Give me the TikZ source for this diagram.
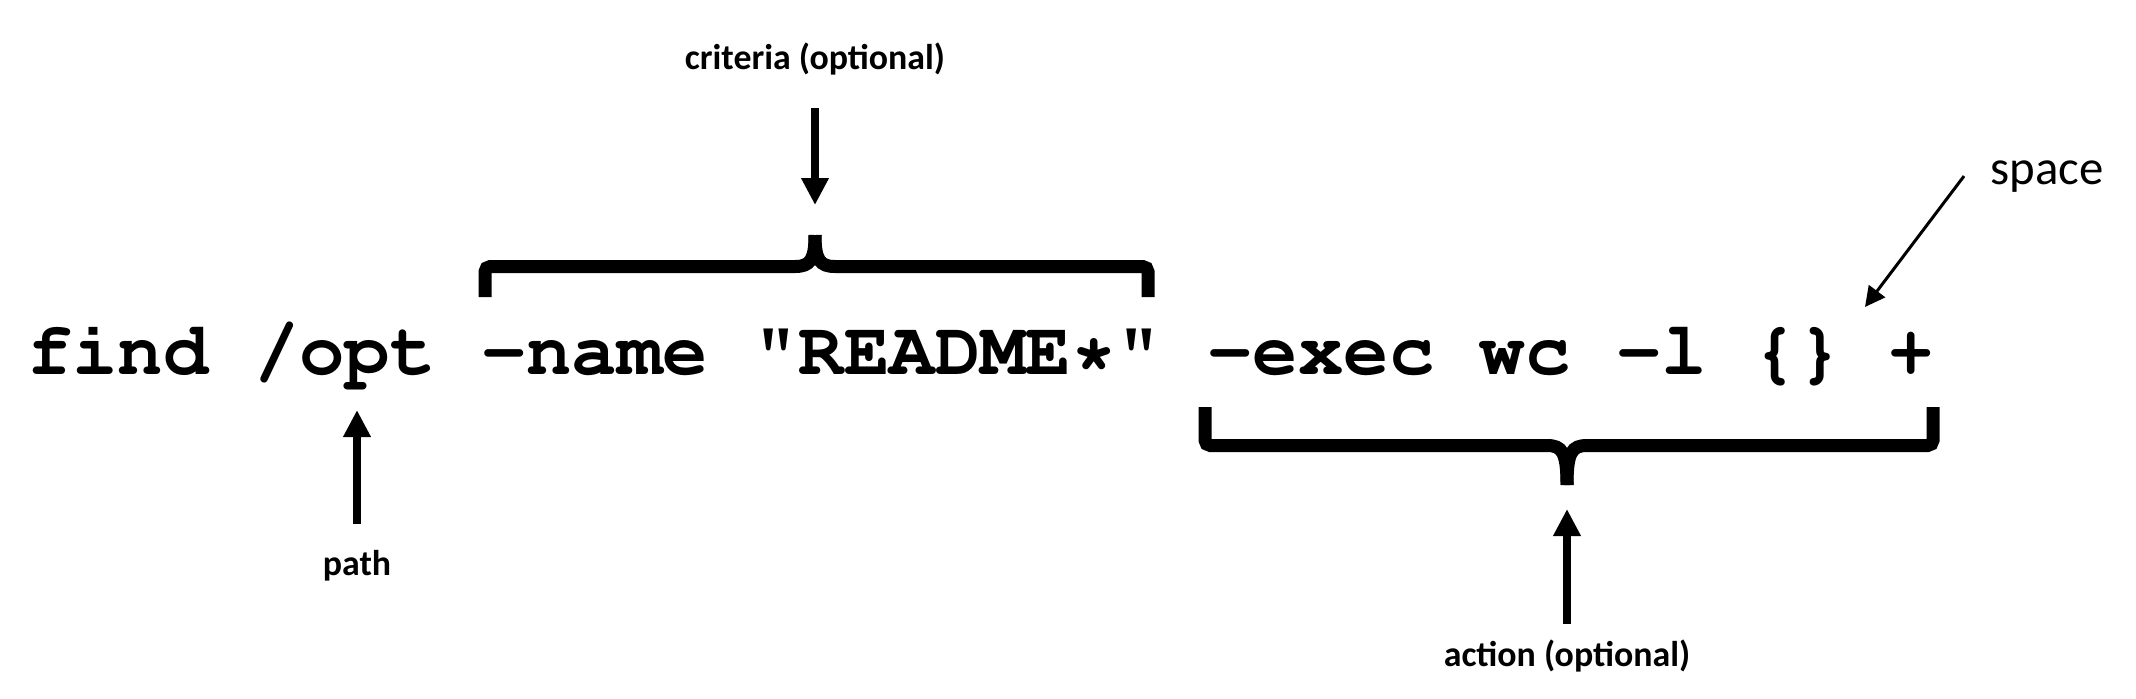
\documentclass[tikz,border=0pt]{standalone}
\usepackage[T1]{fontenc}
\usepackage{fontspec}
\newfontfamily\lblfont{Carlito}
\newcommand{\cmdfont}{\fontencoding{T1}\fontfamily{pcr}\bfseries\fontsize{21.53}{26}\selectfont}
\usetikzlibrary{arrows.meta}

\begin{document}
\begin{tikzpicture}[
        cmd/.style={font=\cmdfont, inner sep=0pt, anchor=base west},
        lbl/.style={font=\lblfont\bfseries\fontsize{10.2}{12}\selectfont, inner sep=0pt, anchor=base},
        brace/.style={line width=0.13cm},
        bigarrow/.style={-{Triangle[width=0.26cm, length=0.27cm]}, line width=0.087cm},
        thinarrow/.style={-{Triangle[width=0.2cm, length=0.2cm]}, line width=0.03cm}]
        \useasboundingbox (0,0) rectangle (21.36,-6.98);
        \node[cmd] (find) at (0.264,-3.74)  {find};
        \node[cmd] (opt)  at (2.534,-3.74)  {/opt};
        \node[cmd] (crit) at (4.804,-3.74)  {-name "README*"};
        \node[cmd] (act)  at (12.068,-3.74) {-exec wc -l \{\}};
        \node[cmd] (plus) at (18.878,-3.74) {+};
        \node[lbl] (critlbl) at (8.15,-0.69)  {criteria (optional)};
        \node[lbl] (pathlbl) at (3.57,-5.75)  {path};
        \node[lbl] (actlbl)  at (15.67,-6.66) {action (optional)};
        \node[lbl, font=\lblfont\fontsize{13.9}{16}\selectfont, anchor=base west] (spacelbl) at (19.90,-1.84) {space};
        \coordinate (critcusp) at (8.15,-2.35);
        \coordinate (actcusp)  at (15.67,-4.85);
        \coordinate (gap)      at (18.65,-3.07);
        \draw[brace] (4.85,-2.97) [rounded corners=1.5pt] -- (4.85,-2.665) [sharp corners] -- (7.95,-2.665) .. controls (8.10,-2.665) and (8.15,-2.60) .. (critcusp);
        \draw[brace] (11.48,-2.97) [rounded corners=1.5pt] -- (11.48,-2.665) [sharp corners] -- (8.35,-2.665) .. controls (8.20,-2.665) and (8.15,-2.60) .. (critcusp);
        \draw[brace] (12.05,-4.07) [rounded corners=1.5pt] -- (12.05,-4.455) [sharp corners] -- (15.47,-4.455) .. controls (15.62,-4.455) and (15.67,-4.52) .. (actcusp);
        \draw[brace] (19.33,-4.07) [rounded corners=1.5pt] -- (19.33,-4.455) [sharp corners] -- (15.87,-4.455) .. controls (15.72,-4.455) and (15.67,-4.52) .. (actcusp);
        \draw[bigarrow, shorten <=0.33cm, shorten >=0.30cm] (critlbl.south) -- (critcusp);
        \draw[bigarrow, shorten <=0.25cm, shorten >=0.36cm] (pathlbl.north) -- (pathlbl.north |- opt.base);
        \draw[bigarrow, shorten <=0.15cm, shorten >=0.24cm] (actlbl.north) -- (actcusp);
        \draw[thinarrow] ([xshift=-0.26cm]spacelbl.west) -- (gap);
    \end{tikzpicture}
\end{document}
